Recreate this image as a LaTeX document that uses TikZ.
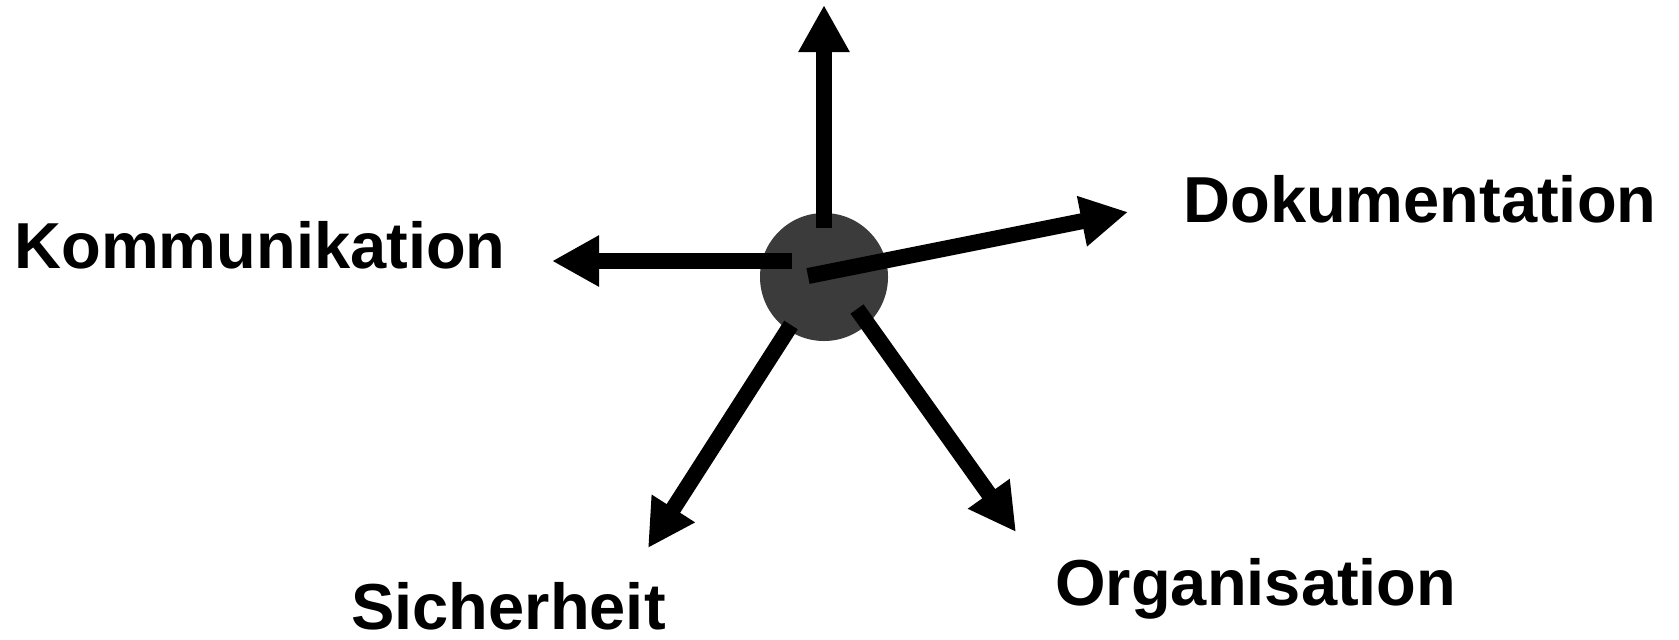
\documentclass[tikz,border=0pt]{standalone}
\usepackage{fontspec}
\setmainfont{Liberation Sans}
\usepackage{tikz}
\usetikzlibrary{arrows.meta,positioning}
\definecolor{hubgray}{RGB}{59,59,59}

\begin{document}
\begin{tikzpicture}[
  x=0.5pt, y=-0.5pt,
  every node/.style={font=\fontsize{32.5}{38}\selectfont\bfseries,
                     inner sep=0pt, text depth=0pt, anchor=base west},
  hub/.style={circle, fill=hubgray, minimum size=64pt,
              inner sep=0pt, anchor=center},
  arr/.style={-{Triangle[length=23.5pt,width=24pt]}, line width=8pt}
]
\useasboundingbox (0,0) rectangle (1679,639);

%% --- Hub -----------------------------------------------------
\node[hub] (hub) at (824,277) {};

%% --- Labels --------------------------------------------------
\node (komm)  at (14,268)   {Kommunikation};
\node (doku)  at (1183,222) {Dokumentation};
\node (orga)  at (1055,605) {Organisation};
\node (sich)  at (351,629)  {Sicherheit};

%% --- Arrow ends ----------------------------------------------
\coordinate (up-s)    at (824,228);
\coordinate (up-e)    at (824,5);
\coordinate (left-s)  at (792,261);
\coordinate (left-e)  at (552,261);
\coordinate (right-s) at (808,276);
\coordinate (right-e) at (1128,212);
\coordinate (ll-s)    at (791,325);
\coordinate (ll-e)    at (648,548);
\coordinate (lr-s)    at (857,309);
\coordinate (lr-e)    at (1016,532);

%% --- Arrows --------------------------------------------------
\draw[arr] (up-s)    -- (up-e);
\draw[arr] (left-s)  -- (left-e);
\draw[arr] (right-s) -- (right-e);
\draw[arr] (ll-s)    -- (ll-e);
\draw[arr] (lr-s)    -- (lr-e);

\end{tikzpicture}
\end{document}
